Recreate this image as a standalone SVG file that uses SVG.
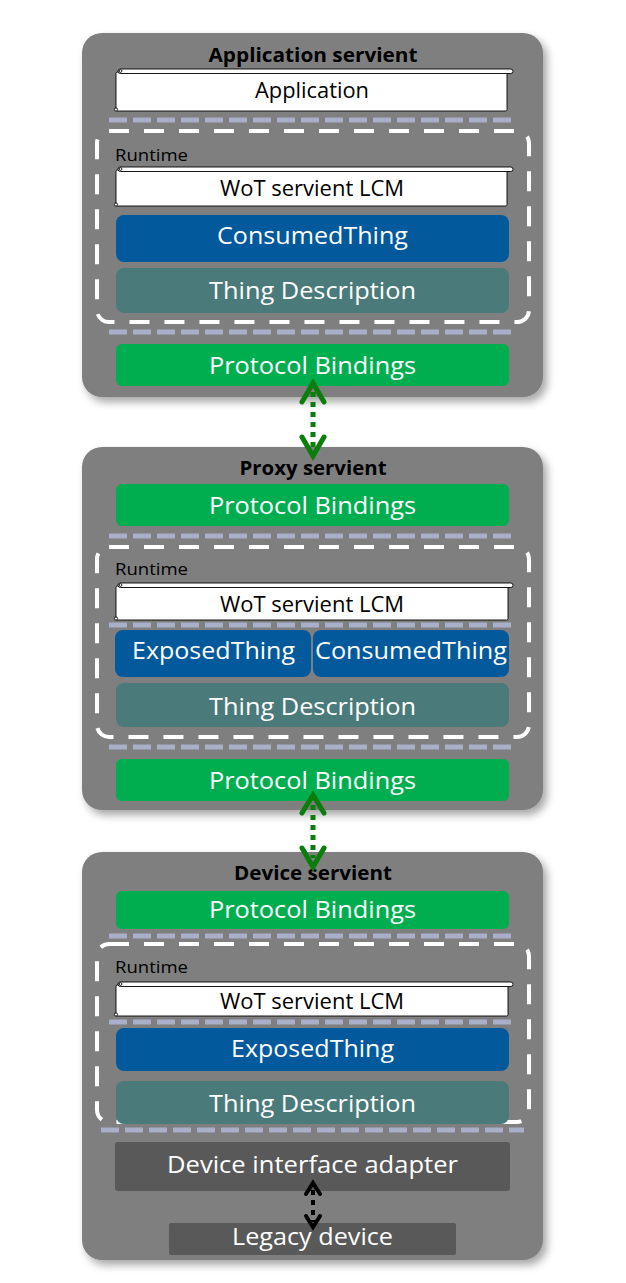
<svg xmlns="http://www.w3.org/2000/svg" width="626" height="1283" viewBox="0 0 626 1283">
  <style>
    .frame { fill: #7f7f7f; filter: url(#shadow); }
    .title { font-family: "Open Sans", "Noto Sans", sans-serif; font-weight: bold; font-size: 20px; fill: #000; text-anchor: middle; }
    .label { font-family: "Open Sans", "Noto Sans", sans-serif; font-size: 24px; fill: #fff; text-anchor: middle; }
    .dark { fill: #000; font-size: 21px; }
    .rt { font-family: "Open Sans", "Noto Sans", sans-serif; font-size: 16px; fill: #000; }
    .blue { fill: #02599c; }
    .teal { fill: #4a7a7a; }
    .green { fill: #00ae4f; }
    .grey { fill: #595959; }
    .runtime { fill: none; stroke: #fff; stroke-width: 4; stroke-dasharray: 20 15; }
    .sep { stroke: #a9afc8; stroke-width: 5; stroke-dasharray: 18 6; }
    .scroll { fill: #fff; stroke: #000; stroke-width: 0.9; }
    .link-g { stroke: #0b7d0b; }
    .link-k { stroke: #000; }
    .dots { stroke-width: 5; stroke-dasharray: 5 5; fill: none; }
    .head { stroke-width: 5; fill: none; stroke-linecap: round; stroke-linejoin: miter; }
  </style>
  <defs>
    <filter id="shadow" x="-10%" y="-10%" width="125%" height="125%">
      <feDropShadow dx="4" dy="5" stdDeviation="4" flood-color="#000" flood-opacity="0.35"/>
    </filter>
  </defs>

  <!-- Application servient -->
  <g id="application-servient">
    <rect class="frame" x="82" y="33" width="461" height="364" rx="20"/>
    <text class="title" x="313" y="62" textLength="209" lengthAdjust="spacingAndGlyphs">Application servient</text>
    <g id="app-application">
      <rect class="scroll" x="116" y="72" width="391" height="39" rx="1.5"/>
      <rect class="scroll" x="118" y="69" width="395" height="4.5" rx="2.25"/>
      <circle class="scroll" cx="120.5" cy="71" r="1.4"/>
      <circle class="scroll" cx="116" cy="109.5" r="1.6"/>
      <text class="label dark" x="312" y="98" textLength="114" lengthAdjust="spacingAndGlyphs">Application</text>
    </g>
    <line class="sep" x1="109" y1="120" x2="512" y2="120"/>
    <rect class="runtime" x="97" y="131" width="432" height="191" rx="12"/>
    <text class="rt" x="115" y="161" textLength="73" lengthAdjust="spacingAndGlyphs">Runtime</text>
    <g id="app-lcm">
      <rect class="scroll" x="116" y="170" width="391" height="36" rx="1.5"/>
      <rect class="scroll" x="118" y="167" width="395" height="4.5" rx="2.25"/>
      <circle class="scroll" cx="120.5" cy="169" r="1.4"/>
      <circle class="scroll" cx="116" cy="204.5" r="1.6"/>
      <text class="label dark" x="312" y="196" textLength="184" lengthAdjust="spacingAndGlyphs">WoT servient LCM</text>
    </g>
    <g id="app-consumed">
      <rect class="blue" x="116" y="215" width="393" height="47" rx="8"/>
      <text class="label" x="312.5" y="244" textLength="191" lengthAdjust="spacingAndGlyphs">ConsumedThing</text>
    </g>
    <g id="app-td">
      <rect class="teal" x="116" y="268" width="393" height="45" rx="8"/>
      <text class="label" x="312.5" y="299" textLength="207" lengthAdjust="spacingAndGlyphs">Thing Description</text>
    </g>
    <line class="sep" x1="109" y1="332" x2="512" y2="332"/>
    <g id="app-bindings">
      <rect class="green" x="116" y="344" width="393" height="42" rx="6"/>
      <text class="label" x="312.5" y="374" textLength="207" lengthAdjust="spacingAndGlyphs">Protocol Bindings</text>
    </g>
  </g>

  <!-- Proxy servient -->
  <g id="proxy-servient">
    <rect class="frame" x="82" y="447" width="461" height="363" rx="20"/>
    <text class="title" x="313" y="475" textLength="147" lengthAdjust="spacingAndGlyphs">Proxy servient</text>
    <g id="proxy-bindings-top">
      <rect class="green" x="116" y="484" width="393" height="42" rx="6"/>
      <text class="label" x="312.5" y="514" textLength="207" lengthAdjust="spacingAndGlyphs">Protocol Bindings</text>
    </g>
    <line class="sep" x1="109" y1="536" x2="512" y2="536"/>
    <rect class="runtime" x="97" y="547" width="432" height="190" rx="12"/>
    <text class="rt" x="115" y="575" textLength="73" lengthAdjust="spacingAndGlyphs">Runtime</text>
    <g id="proxy-lcm">
      <rect class="scroll" x="116" y="586" width="392" height="34" rx="1.5"/>
      <rect class="scroll" x="118" y="583" width="395" height="4.5" rx="2.25"/>
      <circle class="scroll" cx="120.5" cy="585" r="1.4"/>
      <circle class="scroll" cx="116" cy="618.5" r="1.6"/>
      <text class="label dark" x="312" y="612" textLength="184" lengthAdjust="spacingAndGlyphs">WoT servient LCM</text>
    </g>
    <line class="sep" x1="109" y1="625" x2="512" y2="625"/>
    <g id="proxy-exposed">
      <rect class="blue" x="115" y="630" width="196" height="47" rx="8"/>
      <text class="label" x="213.5" y="659" textLength="163" lengthAdjust="spacingAndGlyphs">ExposedThing</text>
    </g>
    <g id="proxy-consumed">
      <rect class="blue" x="313" y="630" width="196" height="47" rx="8"/>
      <text class="label" x="411" y="659" textLength="192" lengthAdjust="spacingAndGlyphs">ConsumedThing</text>
    </g>
    <g id="proxy-td">
      <rect class="teal" x="116" y="683" width="393" height="44" rx="8"/>
      <text class="label" x="312.5" y="715" textLength="207" lengthAdjust="spacingAndGlyphs">Thing Description</text>
    </g>
    <line class="sep" x1="109" y1="747" x2="512" y2="747"/>
    <g id="proxy-bindings-bottom">
      <rect class="green" x="116" y="759" width="393" height="42" rx="6"/>
      <text class="label" x="312.5" y="789" textLength="207" lengthAdjust="spacingAndGlyphs">Protocol Bindings</text>
    </g>
  </g>

  <!-- Device servient -->
  <g id="device-servient">
    <rect class="frame" x="82" y="852" width="461" height="408" rx="20"/>
    <text class="title" x="313" y="880" textLength="158" lengthAdjust="spacingAndGlyphs">Device servient</text>
    <g id="device-bindings">
      <rect class="green" x="116" y="891" width="393" height="38" rx="6"/>
      <text class="label" x="312.5" y="918" textLength="207" lengthAdjust="spacingAndGlyphs">Protocol Bindings</text>
    </g>
    <line class="sep" x1="109" y1="936" x2="512" y2="936"/>
    <rect class="runtime" x="97" y="944" width="432" height="178" rx="12"/>
    <text class="rt" x="115" y="973" textLength="73" lengthAdjust="spacingAndGlyphs">Runtime</text>
    <g id="device-lcm">
      <rect class="scroll" x="116" y="985" width="392" height="31" rx="1.5"/>
      <rect class="scroll" x="118" y="982" width="395" height="4.5" rx="2.25"/>
      <circle class="scroll" cx="120.5" cy="984" r="1.4"/>
      <circle class="scroll" cx="116" cy="1014.5" r="1.6"/>
      <text class="label dark" x="312" y="1009" textLength="184" lengthAdjust="spacingAndGlyphs">WoT servient LCM</text>
    </g>
    <line class="sep" x1="109" y1="1022" x2="512" y2="1022"/>
    <g id="device-exposed">
      <rect class="blue" x="116" y="1028" width="393" height="43" rx="8"/>
      <text class="label" x="312.5" y="1057" textLength="163" lengthAdjust="spacingAndGlyphs">ExposedThing</text>
    </g>
    <g id="device-td">
      <rect class="teal" x="116" y="1081" width="393" height="43" rx="8"/>
      <text class="label" x="312.5" y="1112" textLength="207" lengthAdjust="spacingAndGlyphs">Thing Description</text>
    </g>
    <line class="sep" x1="101" y1="1130" x2="524" y2="1130"/>
    <g id="device-adapter">
      <rect class="grey" x="115" y="1142" width="395" height="49" rx="3"/>
      <text class="label" x="312.5" y="1173" textLength="291" lengthAdjust="spacingAndGlyphs">Device interface adapter</text>
    </g>
    <g id="legacy-device">
      <rect class="grey" x="169" y="1223" width="287" height="32" rx="2"/>
      <text class="label" x="312.5" y="1245" textLength="161" lengthAdjust="spacingAndGlyphs">Legacy device</text>
    </g>
  </g>

  <!-- Connectors -->
  <g id="connectors">
    <g id="link-app-proxy" class="link-g">
      <line class="dots" x1="313" y1="392" x2="313" y2="447"/>
      <polyline class="head" points="302,402 313,383 324,402"/>
      <polyline class="head" points="302,437 313,456 324,437"/>
    </g>
    <g id="link-proxy-device" class="link-g">
      <line class="dots" x1="313" y1="805" x2="313" y2="858"/>
      <polyline class="head" points="302,813 313,795 324,813"/>
      <polyline class="head" points="302,848 313,867 324,848"/>
    </g>
    <g id="link-adapter-legacy" class="link-k">
      <line class="dots" x1="313" y1="1190" x2="313" y2="1222" style="stroke-width:4"/>
      <polyline class="head" points="306,1194 313,1183 320,1194" style="stroke-width:4"/>
      <polyline class="head" points="306,1216 313,1227 320,1216" style="stroke-width:4"/>
    </g>
  </g>
</svg>
